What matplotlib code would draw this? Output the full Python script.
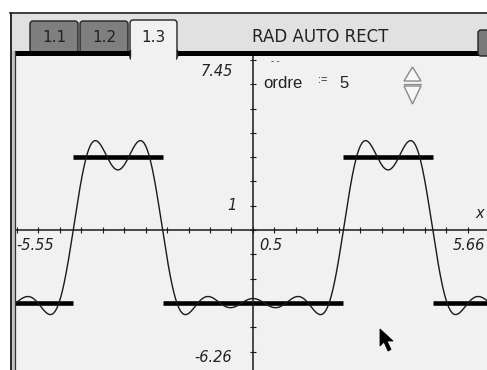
import numpy as np
import matplotlib.pyplot as plt
from matplotlib.patches import Rectangle, Polygon, FancyBboxPatch

# graph window
XMIN, XMAX = -5.55, 5.66
YMIN, YMAX = -6.26, 7.45
XSCL, YSCL = 0.5, 1

# square wave: HIGH on [HIGH_START, HIGH_END] in each period, LOW elsewhere
HIGH = 3
LOW = -3
PERIOD = 2 * np.pi
HIGH_START = 2 * np.pi / 3
HIGH_END = 4 * np.pi / 3
ORDRE = 5

TABS = ["1.1", "1.2", "1.3"]
STATUS = "RAD AUTO RECT"

# screen layout in pixels
W, H = 487, 370
ORIGIN = (253, 230)
PX_X, PX_Y = 43.0, 24.3
BG = "#f0f1f0"
INK = "#1a1a1a"


def fourier(x, n_max):
    w = 2 * np.pi / PERIOD
    amp = HIGH - LOW
    y = LOW + amp * (HIGH_END - HIGH_START) / PERIOD
    for n in range(1, n_max + 1):
        an = amp / (n * np.pi) * (np.sin(n * w * HIGH_END) - np.sin(n * w * HIGH_START))
        bn = amp / (n * np.pi) * (np.cos(n * w * HIGH_START) - np.cos(n * w * HIGH_END))
        y = y + an * np.cos(n * w * x) + bn * np.sin(n * w * x)
    return y


def square_segments():
    # flat pieces of the square wave inside the window
    segs = []
    k0 = int(np.floor((XMIN - HIGH_END) / PERIOD))
    k1 = int(np.ceil((XMAX - HIGH_START) / PERIOD))
    for k in range(k0, k1 + 1):
        a = HIGH_START + k * PERIOD
        b = HIGH_END + k * PERIOD
        c = HIGH_START + (k + 1) * PERIOD
        for lo, hi, val in [(a, b, HIGH), (b, c, LOW)]:
            lo, hi = max(lo, XMIN), min(hi, XMAX)
            if hi > lo:
                segs.append((lo, hi, val))
    return segs


fig = plt.figure(figsize=(W / 100, H / 100), dpi=100, facecolor="white")

# graph axes placed so that the origin lands on the screen origin
left = ORIGIN[0] + XMIN * PX_X
right = ORIGIN[0] + XMAX * PX_X
top = ORIGIN[1] - YMAX * PX_Y
bottom = ORIGIN[1] - YMIN * PX_Y
ax = fig.add_axes([left / W, (H - bottom) / H, (right - left) / W, (bottom - top) / H])
ax.set_facecolor(BG)
ax.set_xlim(XMIN, XMAX)
ax.set_ylim(YMIN, YMAX)

for s in ["top", "right"]:
    ax.spines[s].set_visible(False)
ax.spines["left"].set_position(("data", 0))
ax.spines["bottom"].set_position(("data", 0))
for s in ["left", "bottom"]:
    ax.spines[s].set_linewidth(1.1)
    ax.spines[s].set_color(INK)
ax.set_xticks(np.arange(np.ceil(XMIN / XSCL) * XSCL, XMAX, XSCL))
ax.set_yticks(np.arange(np.ceil(YMIN / YSCL) * YSCL, YMAX, YSCL))
ax.tick_params(direction="inout", length=5, width=0.8, color=INK,
               labelbottom=False, labelleft=False)

for lo, hi, val in square_segments():
    ax.plot([lo, hi], [val, val], color="black", lw=3.3, solid_capstyle="butt")

xs = np.linspace(XMIN, XMAX, 1200)
ax.plot(xs, fourier(xs, ORDRE), color=INK, lw=1.0)

# screen chrome drawn in pixel coordinates on top
ov = fig.add_axes([0, 0, 1, 1], zorder=5)
ov.set_xlim(0, W)
ov.set_ylim(H, 0)
ov.axis("off")
ov.patch.set_alpha(0)

ov.add_patch(Rectangle((11, 12.5), W - 11, 39, facecolor="#e1e1e1", edgecolor="none"))
ov.plot([10, W], [12.5, 12.5], color="#222222", lw=1.2)
ov.add_patch(Rectangle((11, 51), 4, H - 51, facecolor="#c4c4c4", edgecolor="none"))
ov.plot([11, 11], [12.5, H], color="#2a2a2a", lw=1.4)
ov.plot([15, 15], [51, H], color="#333333", lw=0.9)

# tabs
tab_x = [(30, 78), (80, 128), (130, 177)]
for i, (name, (x0, x1)) in enumerate(zip(TABS, tab_x)):
    active = i == len(TABS) - 1
    y0 = 20 if active else 21
    ov.add_patch(FancyBboxPatch((x0, y0), x1 - x0, 40 if active else 33,
                                boxstyle="round,pad=0,rounding_size=3",
                                facecolor=BG if active else "#7f7f7f",
                                edgecolor="#222222", lw=1.0))
    ov.text((x0 + x1) / 2, 37, name, ha="center", va="center", fontsize=11,
            color="#222222", family="DejaVu Sans")

# black bar under the tab row, open below the active tab
ov.add_patch(Rectangle((15, 51), 115, 5, facecolor="black", edgecolor="none"))
ov.add_patch(Rectangle((177, 51), W - 177, 5, facecolor="black", edgecolor="none"))
ov.add_patch(Rectangle((130.6, 50), 45.8, 12, facecolor=BG, edgecolor="none"))
ov.plot([130, 130], [50, 56], color="#222222", lw=1.0)
ov.plot([177, 177], [50, 56], color="#222222", lw=1.0)

ov.add_patch(FancyBboxPatch((478, 30), 14, 26, boxstyle="round,pad=0,rounding_size=3",
                            facecolor="#7a7a7a", edgecolor="#222222", lw=1.0))
ov.text(320, 37, STATUS, ha="center", va="center", fontsize=12, color="#222222",
        family="DejaVu Sans")

# window labels
lab = dict(fontsize=10.5, style="italic", color="#222222", family="DejaVu Sans", va="center")
ov.text(233, 72, f"{YMAX:g}", ha="right", **lab)
ov.text(232, 357, f"{YMIN:g}".replace("\u2212", "-"), ha="right", **lab)
ov.text(16, 245, f"{XMIN:g}", ha="left", **lab)
ov.text(453, 245, f"{XMAX:g}", ha="left", **lab)
ov.text(237, 206, f"{YSCL:g}", ha="right", **lab)
ov.text(259, 245, f"{XSCL:g}", ha="left", **lab)
ov.text(475, 214, "x", ha="left", **lab)

# slider for the order
ov.text(275, 62, "- -", ha="center", va="center", fontsize=6, color="#333333")
ov.text(263, 83, "ordre", ha="left", va="center", fontsize=12, color="#222222",
        family="Liberation Sans")
ov.text(318, 80, ":=", ha="left", va="center", fontsize=8, color="#222222",
        family="Liberation Sans")
ov.text(339, 83, str(ORDRE), ha="left", va="center", fontsize=12, color="#222222",
        family="Liberation Sans")
ov.add_patch(Polygon([(404, 81), (412.5, 67), (421, 81)], closed=True,
                     facecolor="#f7f7f7", edgecolor="#8a8a8a", lw=1.0))
ov.add_patch(Polygon([(404, 86), (412.5, 104), (421, 86)], closed=True,
                     facecolor="#f7f7f7", edgecolor="#8a8a8a", lw=1.0))
ov.plot([404, 421], [83.5, 83.5], color="#8a8a8a", lw=0.8)

# mouse pointer
ov.add_patch(Polygon([(380, 329), (380, 346), (384, 342), (388, 351), (391, 349.5),
                      (387, 341), (393, 341)], closed=True,
                     facecolor="black", edgecolor="black", lw=0.6))

fig.savefig("out.png", dpi=100)
